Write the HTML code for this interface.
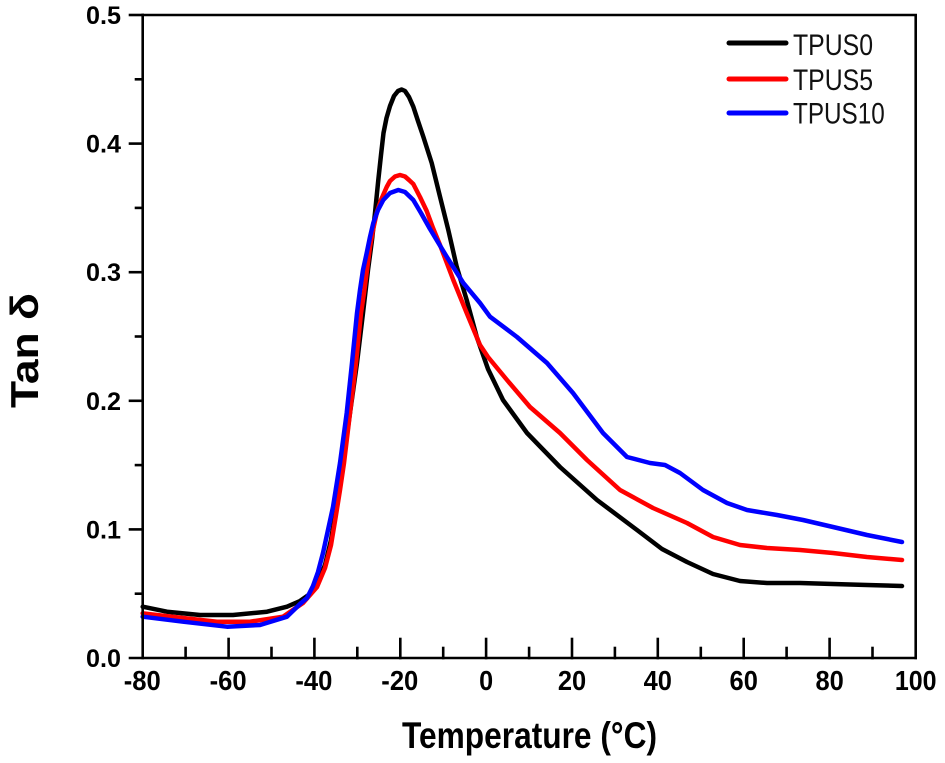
<!DOCTYPE html>
<html><head><meta charset="utf-8"><style>
html,body{margin:0;padding:0;background:#fff;}
svg{display:block;}
text{font-family:"Liberation Sans",Arial,sans-serif;}
</style></head><body>
<svg width="945" height="763" viewBox="0 0 945 763" xmlns="http://www.w3.org/2000/svg">
<rect width="945" height="763" fill="#fff"/>
<!-- curves -->
<g fill="none" stroke-width="4.5" stroke-linejoin="round" stroke-linecap="round">
<polyline stroke="#000" points="142.7,606.7 167,611.7 200,615 233,615 267,611.7 287,606.7 300,601 310,594 318,582 325,565 331,540 336,510 343,463 350,413 357,363 363,313 368,270 372,240 375,213 378.3,180 381,155 383.5,133 386.5,118 390,106 394,96 398,91 401.7,89.5 405,91 409,97 413.3,106.7 418,121 423.3,136.7 431.7,163 440,196.7 448.3,230 456.7,266.7 466.7,300 476.7,336.7 488,369 503,400 527,433 560,467 597,500 637,530 662,549 687,562 713,574 740,581 767,583 800,583 833,584 867,585 902,586"/>
<polyline stroke="#ff0000" points="142.7,613.3 183,618 217,621.7 250,621.7 283,616.7 303,603 317,587 325,568 331,545 336,515 340,490 344,463 350,413 356,363 361,313 364,293 367,270 370,246.7 373,230 376.7,213 381,200 386.7,187 390,181 395,176.5 400,175 405,176.5 409,180 413.3,184 420,197 426.7,211 433,228 440,245 453.3,280 466.7,313 480,345 488,357 507,380 530,407 560,433 587,460 620,490 653,508 687,523 713,537 740,545 767,548 800,550 833,553 867,557 902,560"/>
<polyline stroke="#0000ff" points="142.7,616.7 183,621.7 227,626.7 260,625 287,616.7 300,604 307,598 313,586 318,572 323,553 328,530 333,507 340,463 346.7,413 352,363 357,313 360,290 363,270 366.7,253 370,237 373.3,223 378,210 383.3,200 390,193 398.3,190 405,192 413.3,200 421,213 430,229 446.7,256.7 463.3,283 480,303 490,316.7 517,337 547,363 573,393 603,433 627,457 650,463 665,465 680,473 703,490 727,503 747,510 777,515 803,520 833,527 867,535 902,542"/>
</g>
<!-- frame -->
<g stroke="#000" stroke-width="2.6" fill="none" stroke-linecap="square">
<polyline points="142.7,15 915.7,15 915.7,658"/>
<line x1="142.7" y1="15" x2="142.7" y2="658"/>
<line x1="130" y1="658" x2="915.7" y2="658"/>
<line x1="130" y1="15" x2="142.7" y2="15"/>
<line x1="130" y1="143.6" x2="142.7" y2="143.6"/>
<line x1="130" y1="272.2" x2="142.7" y2="272.2"/>
<line x1="130" y1="400.8" x2="142.7" y2="400.8"/>
<line x1="130" y1="529.4" x2="142.7" y2="529.4"/>
<line x1="136" y1="79.3" x2="142.7" y2="79.3"/>
<line x1="136" y1="207.9" x2="142.7" y2="207.9"/>
<line x1="136" y1="336.5" x2="142.7" y2="336.5"/>
<line x1="136" y1="465.1" x2="142.7" y2="465.1"/>
<line x1="136" y1="593.7" x2="142.7" y2="593.7"/>
<line x1="228.6" y1="639" x2="228.6" y2="658"/>
<line x1="314.4" y1="639" x2="314.4" y2="658"/>
<line x1="400.3" y1="639" x2="400.3" y2="658"/>
<line x1="486.1" y1="639" x2="486.1" y2="658"/>
<line x1="572.0" y1="639" x2="572.0" y2="658"/>
<line x1="657.8" y1="639" x2="657.8" y2="658"/>
<line x1="743.7" y1="639" x2="743.7" y2="658"/>
<line x1="829.6" y1="639" x2="829.6" y2="658"/>
<line x1="185.6" y1="648" x2="185.6" y2="658"/>
<line x1="271.5" y1="648" x2="271.5" y2="658"/>
<line x1="357.3" y1="648" x2="357.3" y2="658"/>
<line x1="443.2" y1="648" x2="443.2" y2="658"/>
<line x1="529.1" y1="648" x2="529.1" y2="658"/>
<line x1="614.9" y1="648" x2="614.9" y2="658"/>
<line x1="700.8" y1="648" x2="700.8" y2="658"/>
<line x1="786.6" y1="648" x2="786.6" y2="658"/>
<line x1="872.5" y1="648" x2="872.5" y2="658"/>
</g>
<!-- y labels -->
<g font-size="25" font-weight="bold" fill="#000" text-anchor="end">
<text x="121" y="24" textLength="35" lengthAdjust="spacingAndGlyphs">0.5</text>
<text x="121" y="152.6" textLength="35" lengthAdjust="spacingAndGlyphs">0.4</text>
<text x="121" y="281.2" textLength="35" lengthAdjust="spacingAndGlyphs">0.3</text>
<text x="121" y="409.8" textLength="35" lengthAdjust="spacingAndGlyphs">0.2</text>
<text x="121" y="538.4" textLength="35" lengthAdjust="spacingAndGlyphs">0.1</text>
<text x="121" y="667" textLength="35" lengthAdjust="spacingAndGlyphs">0.0</text>
</g>
<!-- x labels -->
<g font-size="28" font-weight="bold" fill="#000" text-anchor="middle">
<text x="142.2" y="690" textLength="37" lengthAdjust="spacingAndGlyphs">-80</text>
<text x="228.1" y="690" textLength="37" lengthAdjust="spacingAndGlyphs">-60</text>
<text x="313.9" y="690" textLength="37" lengthAdjust="spacingAndGlyphs">-40</text>
<text x="399.8" y="690" textLength="37" lengthAdjust="spacingAndGlyphs">-20</text>
<text x="486.1" y="690" textLength="14" lengthAdjust="spacingAndGlyphs">0</text>
<text x="572.0" y="690" textLength="28.3" lengthAdjust="spacingAndGlyphs">20</text>
<text x="657.8" y="690" textLength="28.3" lengthAdjust="spacingAndGlyphs">40</text>
<text x="743.7" y="690" textLength="28.3" lengthAdjust="spacingAndGlyphs">60</text>
<text x="829.6" y="690" textLength="28.3" lengthAdjust="spacingAndGlyphs">80</text>
<text x="915.7" y="690" textLength="41.7" lengthAdjust="spacingAndGlyphs">100</text>
</g>
<!-- axis titles -->
<text x="402" y="748" font-size="37" font-weight="bold" fill="#000" textLength="255" lengthAdjust="spacingAndGlyphs">Temperature (°C)</text>
<text transform="translate(38,408) rotate(-90)" x="0" y="0" font-size="39" font-weight="bold" fill="#000" textLength="115" lengthAdjust="spacingAndGlyphs">Tan δ</text>
<!-- legend -->
<g stroke-width="5" stroke-linecap="round">
<line x1="729" y1="43" x2="786" y2="43" stroke="#000"/>
<line x1="729" y1="79" x2="786" y2="79" stroke="#ff0000"/>
<line x1="729" y1="113" x2="786" y2="113" stroke="#0000ff"/>
</g>
<g font-size="30" fill="#111">
<text x="793" y="55" textLength="80" lengthAdjust="spacingAndGlyphs">TPUS0</text>
<text x="793" y="90" textLength="80" lengthAdjust="spacingAndGlyphs">TPUS5</text>
<text x="793" y="123.3" textLength="91.7" lengthAdjust="spacingAndGlyphs">TPUS10</text>
</g>
</svg>
</body></html>
